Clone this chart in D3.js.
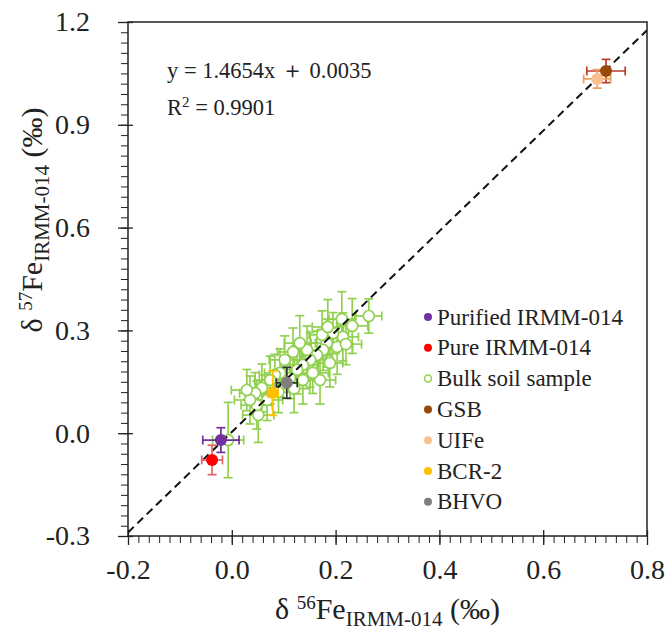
<!DOCTYPE html>
<html>
<head>
<meta charset="utf-8">
<script src="https://cdn.jsdelivr.net/npm/d3@7"></script>
<style>
  body { margin: 0; background: #fff; }
  svg text { font-family: "Liberation Serif", "Times New Roman", serif; fill: #222; }
</style>
</head>
<body>
<svg id="chart" width="671" height="636"></svg>
<script>
// bulk soil samples (open green circles)
var bulkX = [0.264, 0.232, 0.212, 0.214, 0.203, 0.195, 0.189, 0.183, 0.176, 0.174, 0.170, 0.164,
  0.156, 0.151, 0.145, 0.137, 0.137, 0.131, 0.126, 0.118, 0.112, 0.102, 0.093, 0.083, 0.074,
  0.068, 0.058, 0.051, 0.048, 0.045, 0.035, 0.029, -0.007, 0.185, 0.220, 0.090, 0.120];
var bulkY = [0.342, 0.313, 0.333, 0.281, 0.252, 0.292, 0.205, 0.263, 0.243, 0.287, 0.155, 0.228,
  0.176, 0.214, 0.243, 0.199, 0.155, 0.263, 0.185, 0.237, 0.161, 0.214, 0.176, 0.170, 0.155,
  0.097, 0.132, 0.053, 0.082, 0.117, 0.097, 0.126, -0.020, 0.310, 0.260, 0.120, 0.130];
var bulkXErr = [0.025, 0.03, 0.025, 0.03, 0.03, 0.03, 0.025, 0.03, 0.03, 0.025, 0.03, 0.03,
  0.03, 0.03, 0.03, 0.03, 0.03, 0.03, 0.03, 0.03, 0.03, 0.03, 0.03, 0.03, 0.03,
  0.03, 0.03, 0.03, 0.03, 0.03, 0.03, 0.03, 0.03, 0.03, 0.03, 0.03, 0.03];
var bulkYErr = [0.05, 0.08, 0.08, 0.07, 0.08, 0.06, 0.07, 0.07, 0.06, 0.07, 0.07, 0.07,
  0.06, 0.08, 0.07, 0.06, 0.07, 0.08, 0.07, 0.07, 0.06, 0.07, 0.07, 0.06, 0.07,
  0.06, 0.07, 0.08, 0.07, 0.06, 0.07, 0.06, 0.11, 0.08, 0.06, 0.06, 0.07];

// reference materials
var refNames = ["Purified IRMM-014", "Pure IRMM-014", "GSB", "UIFe", "BCR-2", "BHVO"];
var refX = [-0.021, -0.038, 0.721, 0.704, 0.079, 0.106];
var refY = [-0.020, -0.078, 1.057, 1.034, 0.117, 0.147];
var refXErr = [0.035, 0.020, 0.037, 0.026, 0.010, 0.020];
var refYErr = [0.036, 0.043, 0.034, 0.027, 0.065, 0.045];
var refColors = ["#7030a0", "#ff0000", "#984807", "#fac090", "#ffc000", "#7f7f7f"];
var refBarColors = ["#7030a0", "#e06666", "#c0392b", "#e8a060", "#ffc000", "#333333"];

var legendNames = ["Purified IRMM-014", "Pure IRMM-014", "Bulk soil sample", "GSB", "UIFe", "BCR-2", "BHVO"];
var legendColors = ["#7030a0", "#ff0000", "#92d050", "#984807", "#fac090", "#ffc000", "#7f7f7f"];

var slope = 1.4654, intercept = 0.0035, r2 = 0.9901;
var xTicks = [-0.2, 0.0, 0.2, 0.4, 0.6, 0.8];
var yTicks = [-0.3, 0.0, 0.3, 0.6, 0.9, 1.2];

var svg = d3.select("#chart");
var mLeft = 128, mRight = 647, mTop = 22, mBottom = 536;
var green = "#92d050";
var serif = "'Liberation Serif','Times New Roman',serif";

var xScale = d3.scaleLinear().domain([-0.2, 0.8]).range([mLeft, mRight]);
var yScale = d3.scaleLinear().domain([-0.3, 1.2]).range([mBottom, mTop]);
var fmt = function (d) { return d3.format(".1f")(d).replace("−", "-"); };

// minor ticks
var xMinor = d3.range(-0.2, 0.8001, 0.02);
var yMinor = d3.range(-0.3, 1.2001, 0.03);
svg.append("g").attr("transform", "translate(0," + mBottom + ")")
  .call(d3.axisBottom(xScale).tickValues(xMinor).tickSize(7).tickFormat(""))
  .call(function (g) { g.select(".domain").remove(); })
  .selectAll("line").attr("stroke", "#222");
svg.append("g").attr("transform", "translate(" + mLeft + ",0)")
  .call(d3.axisLeft(yScale).tickValues(yMinor).tickSize(7).tickFormat(""))
  .call(function (g) { g.select(".domain").remove(); })
  .selectAll("line").attr("stroke", "#222");

// major ticks crossing the axis
var xAxis = svg.append("g").attr("transform", "translate(0," + mBottom + ")")
  .call(d3.axisBottom(xScale).tickValues(xTicks).tickSize(9).tickPadding(14).tickFormat(fmt));
xAxis.select(".domain").remove();
xAxis.selectAll(".tick line").attr("y1", -6).attr("stroke", "#222").attr("stroke-width", 1.3);
xAxis.selectAll("text").attr("font-size", 28).style("font-family", serif).attr("fill", "#222");

var yAxis = svg.append("g").attr("transform", "translate(" + mLeft + ",0)")
  .call(d3.axisLeft(yScale).tickValues(yTicks).tickSize(10).tickPadding(28).tickFormat(fmt));
yAxis.select(".domain").remove();
yAxis.selectAll(".tick line").attr("x1", 5).attr("stroke", "#222").attr("stroke-width", 1.3);
yAxis.selectAll("text").attr("font-size", 28).style("font-family", serif).attr("fill", "#222");

// frame
svg.append("rect")
  .attr("x", mLeft).attr("y", mTop)
  .attr("width", mRight - mLeft).attr("height", mBottom - mTop)
  .attr("fill", "none").attr("stroke", "#222").attr("stroke-width", 1.5);

// plot area clip
svg.append("clipPath").attr("id", "clip")
  .append("rect").attr("x", mLeft).attr("y", mTop).attr("width", mRight - mLeft).attr("height", mBottom - mTop);
var plot = svg.append("g").attr("clip-path", "url(#clip)");

function errorBars(g, x, y, xe, ye, color, width) {
  var cap = 4.5;
  var px = xScale(x), py = yScale(y);
  var x0 = xScale(x - xe), x1 = xScale(x + xe);
  var y0 = yScale(y - ye), y1 = yScale(y + ye);
  var segs = [
    [x0, py, x1, py], [x0, py - cap, x0, py + cap], [x1, py - cap, x1, py + cap],
    [px, y0, px, y1], [px - cap, y0, px + cap, y0], [px - cap, y1, px + cap, y1]
  ];
  segs.forEach(function (s) {
    g.append("line").attr("x1", s[0]).attr("y1", s[1]).attr("x2", s[2]).attr("y2", s[3])
      .attr("stroke", color).attr("stroke-width", width);
  });
}

// bulk soil samples
var bulkG = plot.append("g");
bulkX.forEach(function (x, i) {
  errorBars(bulkG, x, bulkY[i], bulkXErr[i], bulkYErr[i], green, 1.7);
});
bulkG.selectAll("circle").data(bulkX).enter().append("circle")
  .attr("cx", function (d) { return xScale(d); })
  .attr("cy", function (d, i) { return yScale(bulkY[i]); })
  .attr("r", 5.5)
  .attr("fill", "#fff").attr("stroke", green).attr("stroke-width", 1.7);

// regression line
var line = d3.line()
  .x(function (d) { return xScale(d); })
  .y(function (d) { return yScale(slope * d + intercept); });
plot.append("path").datum([-0.2, 0.8]).attr("d", line)
  .attr("fill", "none").attr("stroke", "#111").attr("stroke-width", 2)
  .attr("stroke-dasharray", "8,5");

// reference materials
var refG = plot.append("g");
refX.forEach(function (x, i) {
  errorBars(refG, x, refY[i], refXErr[i], refYErr[i], refBarColors[i], 1.7);
});
refG.selectAll("circle").data(refX).enter().append("circle")
  .attr("cx", function (d) { return xScale(d); })
  .attr("cy", function (d, i) { return yScale(refY[i]); })
  .attr("r", 6)
  .attr("fill", function (d, i) { return refColors[i]; });

// equation
svg.append("text").attr("x", 167).attr("y", 78).attr("font-size", 22.5)
  .text("y = " + slope.toFixed(4) + "x ＋ " + intercept.toFixed(4));
var r2Text = svg.append("text").attr("x", 167).attr("y", 115).attr("font-size", 22.5);
r2Text.append("tspan").text("R");
r2Text.append("tspan").attr("dy", -8).attr("font-size", 15).text("2");
r2Text.append("tspan").attr("dy", 8).text(" = " + r2.toFixed(4));

// legend
var legend = svg.append("g").attr("transform", "translate(428,317)");
legendNames.forEach(function (name, i) {
  var row = legend.append("g").attr("transform", "translate(0," + i * 30.8 + ")");
  if (name === "Bulk soil sample") {
    row.append("circle").attr("r", 3.5).attr("fill", "#fff")
      .attr("stroke", legendColors[i]).attr("stroke-width", 1.5);
  } else {
    row.append("circle").attr("r", 4).attr("fill", legendColors[i]);
  }
  row.append("text").attr("x", 9).attr("y", 7.5).attr("font-size", 23).text(name);
});

// axis titles
var xTitle = svg.append("text").attr("x", (mLeft + mRight) / 2).attr("y", 619)
  .attr("text-anchor", "middle").attr("font-size", 30);
xTitle.append("tspan").text("δ ");
xTitle.append("tspan").attr("dy", -10).attr("font-size", 19).text("56");
xTitle.append("tspan").attr("dy", 10).text("Fe");
xTitle.append("tspan").attr("dy", 7).attr("font-size", 21).text("IRMM-014");
xTitle.append("tspan").attr("dy", -7).text(" (‰)");

var yTitle = svg.append("text").attr("transform", "translate(42,220) rotate(-90)")
  .attr("text-anchor", "middle").attr("font-size", 30);
yTitle.append("tspan").text("δ ");
yTitle.append("tspan").attr("dy", -10).attr("font-size", 19).text("57");
yTitle.append("tspan").attr("dy", 10).text("Fe");
yTitle.append("tspan").attr("dy", 7).attr("font-size", 21).text("IRMM-014");
yTitle.append("tspan").attr("dy", -7).text(" (‰)");
</script>
</body>
</html>
